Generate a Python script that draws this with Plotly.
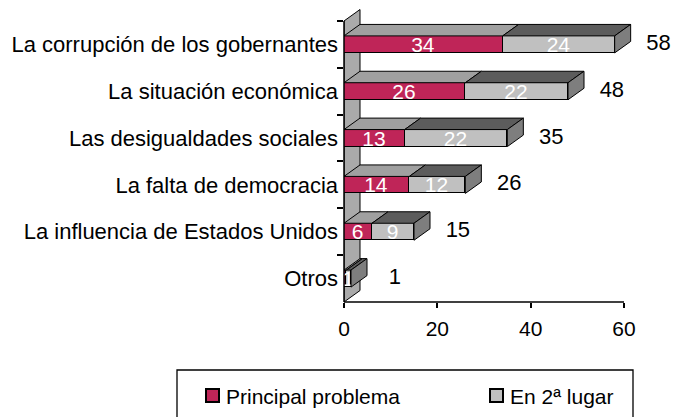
import plotly.graph_objects as go

# ---------------- data ----------------
categories = [
    "La corrupción de los gobernantes",
    "La situación económica",
    "Las desigualdades sociales",
    "La falta de democracia",
    "La influencia de Estados Unidos",
    "Otros",
]
principal = [34, 26, 13, 14, 6, 0.5]
segundo = [24, 22, 22, 12, 9, 1.0]
principal_labels = ["34", "26", "13", "14", "6", ""]
segundo_labels = ["24", "22", "22", "12", "9", "1"]
total_labels = ["58", "48", "35", "26", "15", "1"]
series_names = ["Principal problema", "En 2ª lugar"]
x_ticks = [0, 20, 40, 60]

totals = [p + s for p, s in zip(principal, segundo)]

# ---------------- style ----------------
FONT = "Liberation Sans, Arial, sans-serif"
RED = "#BF2558"
LIGHT = "#C0C0C0"
TOP_RED = "#A0A0A0"
TOP_LIGHT = "#5C5C5C"
SIDE = "#7E7E7E"
WALL = "#AAAAAA"

W, H = 682, 417
ML, MR, MT, MB = 344, 2, 3, 115
X_RANGE = [0, 72]
Y_RANGE = [5.5, -0.884]          # reversed: first category on top
BAR_H = 0.363                    # bar thickness (category units)
DX = 3.43                        # depth offset in x units
DY = 0.245                       # depth offset in category units

plot_w = W - ML - MR
plot_h = H - MT - MB


def px_to_paper(px, py):
    return (px - ML) / plot_w, (H - MB - py) / plot_h


fig = go.Figure()

for vals, labels, col, name in [(principal, principal_labels, RED, series_names[0]),
                                (segundo, segundo_labels, LIGHT, series_names[1])]:
    fig.add_trace(go.Bar(
        y=categories, x=vals, orientation="h", name=name,
        width=BAR_H, marker=dict(color=col, line=dict(color="black", width=1)),
        text=labels, textposition="inside", insidetextanchor="middle",
        constraintext="none", textangle=0,
        textfont=dict(color="white", size=21, family=FONT),
        showlegend=False, hoverinfo="skip",
    ))

# total labels
fig.add_trace(go.Scatter(
    y=categories, x=[t + 9.4 for t in totals], mode="text",
    text=total_labels, textposition="middle center",
    textfont=dict(color="black", size=22, family=FONT),
    cliponaxis=False, showlegend=False, hoverinfo="skip",
))

shapes = []
# back wall (3D)
shapes.append(dict(
    type="path", xref="x", yref="y", layer="below",
    path=f"M 0,5.5 L 0,-0.5 L {DX},{-0.5 - DY} L {DX},{5.5 - DY} Z",
    fillcolor=WALL, line=dict(color="black", width=1),
))

# 3D top and side faces of bars
for i in range(len(categories)):
    yt = i - BAR_H / 2
    yb = i + BAR_H / 2
    segs = [(0, principal[i], TOP_RED), (principal[i], totals[i], TOP_LIGHT)]
    for x0, x1, col in segs:
        shapes.append(dict(
            type="path", xref="x", yref="y", layer="above",
            path=(f"M {x0},{yt} L {x1},{yt} L {x1 + DX},{yt - DY} "
                  f"L {x0 + DX},{yt - DY} Z"),
            fillcolor=col, line=dict(color="black", width=1),
        ))
    xe = totals[i]
    shapes.append(dict(
        type="path", xref="x", yref="y", layer="above",
        path=(f"M {xe},{yt} L {xe + DX},{yt - DY} L {xe + DX},{yb - DY} "
              f"L {xe},{yb} Z"),
        fillcolor=SIDE, line=dict(color="black", width=1),
    ))

# axis lines
shapes.append(dict(type="line", xref="x", yref="paper", x0=0, x1=x_ticks[-1],
                   y0=0, y1=0, line=dict(color="black", width=1.5), layer="above"))
shapes.append(dict(type="line", xref="paper", yref="y", x0=0, x1=0,
                   y0=-0.5, y1=5.5, line=dict(color="black", width=1.5), layer="above"))

# legend box (manual)
bx0, by0 = px_to_paper(177, 370)
bx1, by1 = px_to_paper(633, 440)
shapes.append(dict(type="rect", xref="paper", yref="paper", x0=bx0, y0=by0,
                   x1=bx1, y1=by1, line=dict(color="black", width=1.3),
                   fillcolor="white", layer="above"))

annotations = []
legend_items = [(series_names[0], RED, 206, 224), (series_names[1], LIGHT, 490, 508)]
for name, col, sqx, tx in legend_items:
    sx0, sy0 = px_to_paper(sqx, 389)
    sx1, sy1 = px_to_paper(sqx + 13, 402)
    shapes.append(dict(type="rect", xref="paper", yref="paper", x0=sx0, y0=sy0,
                       x1=sx1, y1=sy1, line=dict(color="black", width=2),
                       fillcolor=col, layer="above"))
    ax_, ay_ = px_to_paper(tx, 396)
    annotations.append(dict(
        x=ax_, y=ay_, xref="paper", yref="paper", text=name, showarrow=False,
        xanchor="left", yanchor="middle",
        font=dict(size=21, color="black", family=FONT),
    ))

fig.update_layout(
    width=W, height=H,
    margin=dict(l=ML, r=MR, t=MT, b=MB, autoexpand=False),
    paper_bgcolor="white", plot_bgcolor="white",
    barmode="stack", bargap=0,
    showlegend=False,
    shapes=shapes, annotations=annotations,
    font=dict(family=FONT, size=21, color="black"),
    xaxis=dict(
        range=X_RANGE, tickmode="array", tickvals=x_ticks,
        ticks="outside", ticklen=5, tickcolor="black", tickwidth=1.5,
        showline=False, showgrid=False, zeroline=False,
        tickfont=dict(size=21, family=FONT, color="black"),
        ticklabelstandoff=3,
    ),
    yaxis=dict(
        type="category", categoryorder="array", categoryarray=categories,
        range=Y_RANGE, tickson="boundaries",
        ticks="outside", ticklen=6, tickcolor="black", tickwidth=1.5,
        showline=False, showgrid=False, zeroline=False,
        tickfont=dict(size=22, family=FONT, color="black"),
        ticklabelstandoff=5,
    ),
)

fig.write_html("out.html", config={"displayModeBar": False},
               post_script="document.body.style.margin='0px';")
